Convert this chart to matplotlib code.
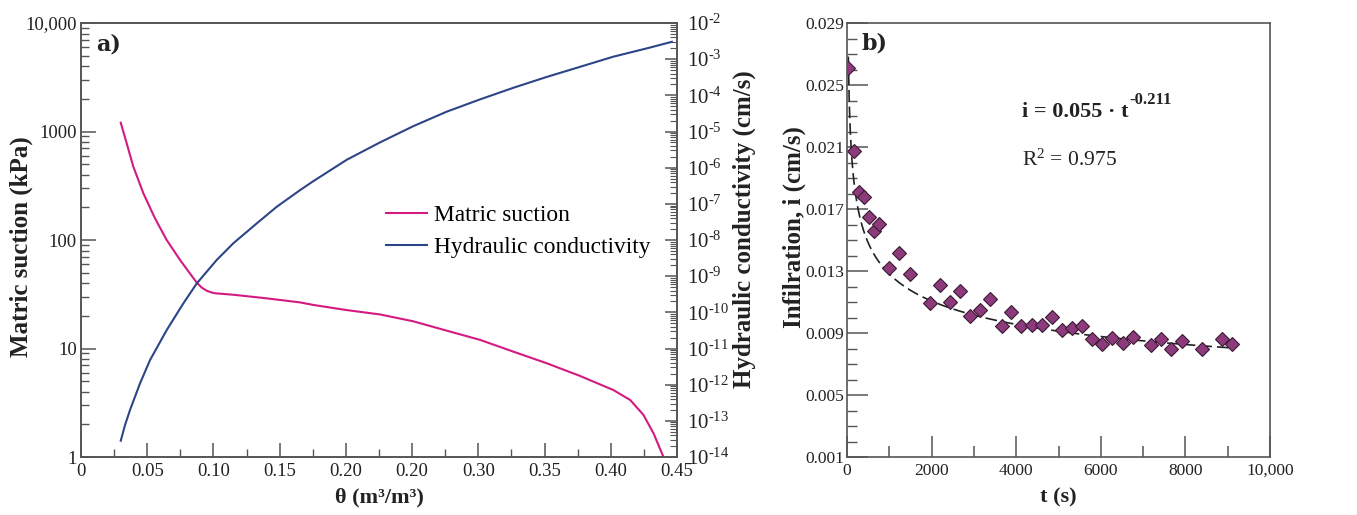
import numpy as np
import matplotlib
matplotlib.use("Agg")
import matplotlib.pyplot as plt
from matplotlib.ticker import FixedLocator, LogLocator, NullFormatter, MultipleLocator
from matplotlib.transforms import IdentityTransform

# === FONTES ===
plt.rcParams['font.family'] = ['Liberation Serif', 'DejaVu Serif']
plt.rcParams['mathtext.fontset'] = 'custom'
plt.rcParams['mathtext.rm'] = 'Liberation Serif'
plt.rcParams['mathtext.bf'] = 'Liberation Serif:bold'
plt.rcParams['mathtext.it'] = 'Liberation Serif:italic'

# === DADOS (a) curva de retencao e condutividade ===
theta_suc = [0.0300, 0.0345, 0.0395, 0.0471, 0.0559, 0.0647, 0.0748, 0.0874, 0.0912,
             0.0949, 0.0980, 0.1012, 0.1150, 0.1402, 0.1654, 0.1755, 0.2007, 0.2258,
             0.2510, 0.2762, 0.3014, 0.3265, 0.3517, 0.3769, 0.4020, 0.4147, 0.4247,
             0.4323, 0.4398]
suction = [1205, 778, 474, 269, 158, 100, 65.4, 40.4, 36.4,
           34.1, 33.0, 32.3, 31.3, 29.0, 26.6, 25.2, 22.6, 20.6,
           17.8, 14.6, 12.0, 9.35, 7.31, 5.58, 4.14, 3.35, 2.44,
           1.65, 1.0]

theta_k = [0.0300, 0.0332, 0.0370, 0.0446, 0.0521, 0.0647, 0.0773, 0.0874, 0.1025,
           0.1150, 0.1327, 0.1478, 0.1654, 0.1755, 0.2007, 0.2258, 0.2510, 0.2762,
           0.3014, 0.3265, 0.3517, 0.3769, 0.4020, 0.4273, 0.4461]
log_k = [-13.55, -13.12, -12.70, -11.96, -11.32, -10.49, -9.75, -9.20, -8.55,
         -8.09, -7.54, -7.08, -6.62, -6.37, -5.78, -5.30, -4.85, -4.45,
         -4.11, -3.79, -3.49, -3.21, -2.93, -2.70, -2.52]

theta_ticks = [0, 0.05, 0.10, 0.15, 0.20, 0.25, 0.30, 0.35, 0.40, 0.45]
theta_labels = ['0', '0.05', '0.10', '0.15', '0.20', '0.20', '0.30', '0.35', '0.40', '0.45']
suc_ticks = [1, 10, 100, 1000, 10000]
suc_labels = ['1', '10', '100', '1000', '10,000']
k_exps = list(range(-14, -1))

# === DADOS (b) infiltracao ===
t_obs = [30, 165, 291, 402, 512, 646, 757, 993, 1237, 1489, 1955, 2199, 2427, 2679,
         2908, 3144, 3389, 3656, 3869, 4121, 4366, 4602, 4839, 5075, 5327, 5563,
         5799, 6036, 6272, 6525, 6769, 7179, 7423, 7660, 7912, 8385, 8873, 9109]
i_obs = [0.02608, 0.02076, 0.01808, 0.01777, 0.0165, 0.01558, 0.01603, 0.01317, 0.01414,
         0.01278, 0.01091, 0.01212, 0.01098, 0.01169, 0.01012, 0.01046, 0.01119, 0.00947,
         0.01038, 0.00947, 0.0095, 0.0095, 0.01001, 0.00919, 0.0093, 0.00945, 0.00861,
         0.00827, 0.0087, 0.00838, 0.00872, 0.00823, 0.0086, 0.00797, 0.0085, 0.008,
         0.0086, 0.00827]
FIT_A = 0.055
FIT_B = -0.211
t_ticks = [0, 2000, 4000, 6000, 8000, 10000]
t_labels = ['0', '2000', '4000', '6000', '8000', '10,000']
i_ticks = [0.001, 0.005, 0.009, 0.013, 0.017, 0.021, 0.025, 0.029]

# === CORES ===
MAGENTA = '#d41a80'
AZUL = '#2c4586'
ROXO = '#8c3a7c'
EIXO = '#555555'
TEXTO = '#222222'

fig = plt.figure(figsize=(13.57, 5.15), dpi=100)
ax1 = fig.add_axes([0.0597, 0.1126, 0.4392, 0.8427])
ax2 = ax1.twinx()
axb = fig.add_axes([0.6242, 0.1126, 0.3117, 0.8427])

for ax in (ax1, ax2, axb):
    for s in ax.spines.values():
        s.set_color(EIXO)
        s.set_linewidth(1.2)

# --- painel a ---
l1, = ax1.plot(theta_suc, suction, color=MAGENTA, lw=1.5, label='Matric suction')
l2, = ax2.plot(theta_k, 10.0 ** np.array(log_k), color=AZUL, lw=1.5, label='Hydraulic conductivity')
ax1.set_yscale('log')
ax2.set_yscale('log')
ax1.set_xlim(0, 0.45)
ax1.set_ylim(1, 10000)
ax2.set_ylim(1e-14, 1e-2)

ax1.xaxis.set_major_locator(FixedLocator(theta_ticks))
ax1.set_xticklabels(theta_labels)
ax1.xaxis.set_minor_locator(FixedLocator(np.arange(0.025, 0.45, 0.05)))
ax1.set_yticks(suc_ticks)
ax1.set_yticklabels(suc_labels)
ax1.yaxis.set_minor_locator(LogLocator(base=10, subs=np.arange(2, 10)))
ax1.yaxis.set_minor_formatter(NullFormatter())
ax1.tick_params(axis='x', which='major', direction='in', length=10, width=1.1, colors=EIXO,
                labelcolor=TEXTO, labelsize=13.5, pad=4, top=False)
ax1.tick_params(axis='x', which='minor', direction='in', length=6, width=1.0, colors=EIXO, top=False)
ax1.tick_params(axis='y', which='major', direction='in', length=11, width=1.1, colors=EIXO,
                labelcolor=TEXTO, labelsize=13.5, pad=3, right=False)
ax1.tick_params(axis='y', which='minor', direction='in', length=6, width=1.0, colors=EIXO, right=False)

ax2.set_yticks([10.0 ** k for k in k_exps])
ax2.set_yticklabels([r'$10^{\text{-%d}}$' % (-k) for k in k_exps])
ax2.yaxis.set_minor_locator(LogLocator(base=10, subs=np.arange(2, 10), numticks=20))
ax2.yaxis.set_minor_formatter(NullFormatter())
ax2.tick_params(axis='y', which='major', direction='in', length=9, width=1.1, colors=EIXO,
                labelcolor=TEXTO, labelsize=15, pad=7)
ax2.tick_params(axis='y', which='minor', direction='in', length=5, width=0.8, colors=EIXO)

ax1.set_xlabel('θ (m³/m³)', fontsize=16, fontweight='bold', color=TEXTO)
ax1.xaxis.set_label_coords(0.5, -0.070)
ax1.set_ylabel('Matric suction (kPa)', fontsize=18, fontweight='bold', color=TEXTO)
ax1.yaxis.set_label_coords(-0.080, 0.484)
ax2.set_ylabel('Hydraulic conductivity (cm/s)', fontsize=18, fontweight='bold', color=TEXTO)
ax2.yaxis.set_label_coords(1.094, 0.526)
ax1.text(0.025, 0.975, 'a)', transform=ax1.transAxes, fontsize=16, va='top',
         family='DejaVu Serif', fontweight='bold', color=TEXTO)

ax1.legend(handles=[l1, l2], loc='center left', bbox_to_anchor=(0.476, 0.52), frameon=False,
           prop={'size': 16.8}, handlelength=1.76, handletextpad=0.3, labelspacing=0.45)

# --- painel b ---
t_fit = np.linspace(min(t_obs), max(t_obs), 400)
axb.plot(t_fit, FIT_A * t_fit ** FIT_B, color=TEXTO, lw=1.2, ls=(0, (7, 3)))
axb.plot(t_obs, i_obs, ls='none', marker='D', ms=7.5, mfc=ROXO, mec='#3a1a33', mew=0.8)
axb.set_xlim(0, 10000)
axb.set_ylim(0.001, 0.029)
axb.set_xticks(t_ticks)
axb.set_xticklabels(t_labels)
axb.xaxis.set_minor_locator(MultipleLocator(1000))
axb.set_yticks(i_ticks)
axb.set_yticklabels(['%.3f' % v for v in i_ticks])
axb.yaxis.set_minor_locator(MultipleLocator(0.001))
axb.tick_params(axis='x', which='major', direction='in', length=15, width=1.1, colors=EIXO,
                labelcolor=TEXTO, labelsize=12.5, pad=4)
axb.tick_params(axis='x', which='minor', direction='in', length=8, width=1.1, colors=EIXO)
axb.tick_params(axis='y', which='major', direction='in', length=15, width=1.1, colors=EIXO,
                labelcolor=TEXTO, labelsize=12.5, pad=2)
axb.tick_params(axis='y', which='minor', direction='in', length=7, width=1.0, colors=EIXO)
axb.set_xlabel('t (s)', fontsize=16, fontweight='bold', color=TEXTO)
axb.xaxis.set_label_coords(0.5, -0.070)
axb.set_ylabel('Infilration, i (cm/s)', fontsize=18, fontweight='bold', color=TEXTO)
axb.yaxis.set_label_coords(-0.098, 0.53)
axb.text(0.035, 0.978, 'b)', transform=axb.transAxes, fontsize=16, va='top',
         family='DejaVu Serif', fontweight='bold', color=TEXTO)

eq = axb.text(0.414, 0.783, 'i = 0.055 · t', transform=axb.transAxes, fontsize=16,
              fontweight='bold', va='baseline', color=TEXTO)
axb.text(0.414, 0.670, r'R$^2$ = 0.975', transform=axb.transAxes, fontsize=15.5,
         va='baseline', color=TEXTO)
fig.canvas.draw()
bb = eq.get_window_extent()
y_base = axb.transAxes.transform((0.414, 0.783))[1]
fig.text(bb.x1 + 1, y_base + 13, '-0.211', transform=IdentityTransform(), fontsize=12,
         fontweight='bold', va='baseline', color=TEXTO)

fig.savefig('out.png', dpi=100)
